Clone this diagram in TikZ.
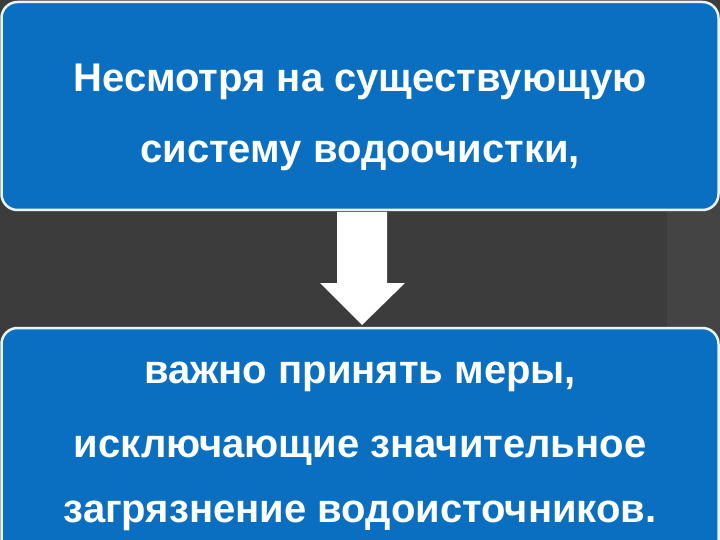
\documentclass[tikz,border=0pt]{standalone}
\usepackage{fontspec}
\setmainfont{Liberation Sans}
\definecolor{bg}{HTML}{3C3C3C}
\definecolor{bgr}{HTML}{444444}
\definecolor{boxblue}{HTML}{0A6FC0}
\definecolor{edge}{HTML}{E8F4FF}
\tikzset{
  panel/.style={fill=boxblue, draw=edge, line width=2.5pt, rounded corners=16pt},
  txt/.style={text=white, font=\fontsize{40}{40}\selectfont\bfseries, anchor=base, inner sep=0pt},
  arrowshape/.style={fill=white, draw=none}
}
\begin{document}
\begin{tikzpicture}[x=1pt,y=-1pt]
\useasboundingbox (0,0) rectangle (720,540);
\fill[bg] (0,0) rectangle (720,540);
\fill[bgr] (667,200) rectangle (720,340);
\draw[panel] (1.5,2) rectangle (718.5,210);
\draw[panel] (1.5,328) rectangle (718.5,560);
\node[txt] (l1) at (360,92) {Несмотря на существующую};
\node[txt] (l2) at (360,163) {систему водоочистки,};
\node[txt] (l3) at (360,383) {важно принять меры,};
\node[txt] (l4) at (360,457) {исключающие значительное};
\node[txt] (l5) at (360,522) {загрязнение водоисточников.};
\fill[arrowshape] (337,212) -- (387,212) -- (387,283) -- (405,283) -- (362,325) -- (320,283) -- (337,283) -- cycle;
\end{tikzpicture}
\end{document}
